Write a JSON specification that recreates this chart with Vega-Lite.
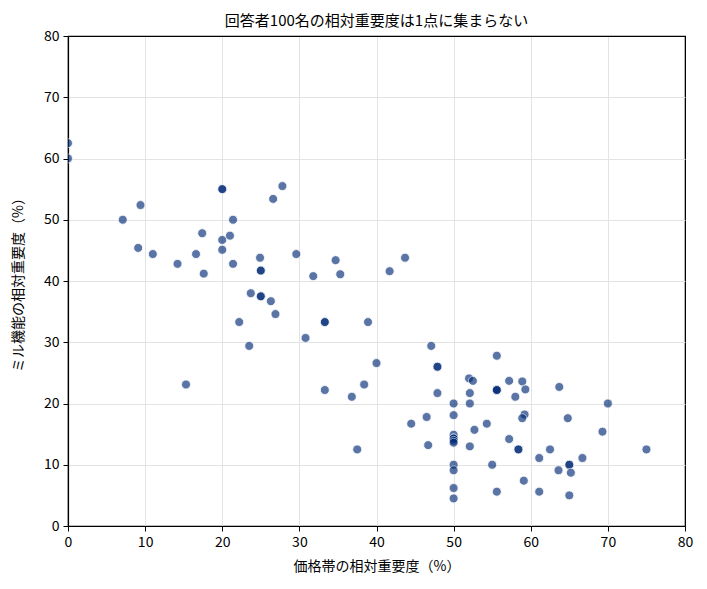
{
  "$schema": "https://vega.github.io/schema/vega-lite/v6.json",
  "width": 617,
  "height": 490,
  "autosize": "none",
  "padding": {"left": 68, "top": 36, "right": 22, "bottom": 63},
  "background": "white",
  "view": {"stroke": "black", "strokeWidth": 1.2},
  "config": {
    "font": "Noto Sans CJK JP",
    "view": {"stroke": "black", "strokeWidth": 1.2},
    "axis": {
      "domainColor": "black",
      "domainWidth": 1.2,
      "tickColor": "black",
      "labelColor": "black",
      "labelFontSize": 14,
      "labelFlush": false,
      "titleFontSize": 14,
      "titleFontWeight": "normal",
      "titleColor": "black",
      "gridColor": {
        "condition": {"test": "datum.value === 80", "value": "black"},
        "value": "#e3e3e3"
      },
      "tickSize": 5,
      "labelPadding": 4
    }
  },
  "title": {
    "text": "回答者100名の相対重要度は1点に集まらない",
    "fontSize": 15,
    "fontWeight": "normal",
    "color": "black",
    "offset": 0
  },
  "data": {
    "values": [
      {"price": 0, "mill": 62.5}, {"price": 0, "mill": 60},
      {"price": 20, "mill": 55}, {"price": 20, "mill": 55},
      {"price": 27.8, "mill": 55.5}, {"price": 26.6, "mill": 53.4},
      {"price": 9.4, "mill": 52.4}, {"price": 7.1, "mill": 50},
      {"price": 21.4, "mill": 50}, {"price": 17.4, "mill": 47.8},
      {"price": 20, "mill": 46.7}, {"price": 21, "mill": 47.4},
      {"price": 9.1, "mill": 45.4}, {"price": 11, "mill": 44.4},
      {"price": 16.6, "mill": 44.4}, {"price": 20, "mill": 45.1},
      {"price": 14.2, "mill": 42.8}, {"price": 17.6, "mill": 41.2},
      {"price": 21.4, "mill": 42.8}, {"price": 24.9, "mill": 43.8},
      {"price": 25, "mill": 41.7}, {"price": 25, "mill": 41.7},
      {"price": 29.6, "mill": 44.4}, {"price": 34.7, "mill": 43.4},
      {"price": 31.8, "mill": 40.8}, {"price": 35.3, "mill": 41.1},
      {"price": 41.7, "mill": 41.6}, {"price": 43.7, "mill": 43.8},
      {"price": 23.7, "mill": 38}, {"price": 25, "mill": 37.5},
      {"price": 25, "mill": 37.5}, {"price": 26.3, "mill": 36.7},
      {"price": 26.9, "mill": 34.6}, {"price": 22.2, "mill": 33.3},
      {"price": 33.3, "mill": 33.3}, {"price": 33.3, "mill": 33.3},
      {"price": 38.9, "mill": 33.3}, {"price": 30.8, "mill": 30.7},
      {"price": 23.5, "mill": 29.4}, {"price": 47.1, "mill": 29.4},
      {"price": 15.3, "mill": 23.1}, {"price": 40, "mill": 26.6},
      {"price": 33.3, "mill": 22.2}, {"price": 38.4, "mill": 23.1},
      {"price": 36.8, "mill": 21.1}, {"price": 37.5, "mill": 12.5},
      {"price": 44.5, "mill": 16.7}, {"price": 55.6, "mill": 27.8},
      {"price": 47.9, "mill": 26}, {"price": 47.9, "mill": 26},
      {"price": 52, "mill": 24.1}, {"price": 52.5, "mill": 23.7},
      {"price": 57.2, "mill": 23.7}, {"price": 58.9, "mill": 23.6},
      {"price": 55.6, "mill": 22.2}, {"price": 55.6, "mill": 22.2},
      {"price": 55.6, "mill": 22.2}, {"price": 59.3, "mill": 22.3},
      {"price": 63.7, "mill": 22.7}, {"price": 47.9, "mill": 21.7},
      {"price": 52.1, "mill": 21.7}, {"price": 58, "mill": 21.1},
      {"price": 50, "mill": 20}, {"price": 52.1, "mill": 20},
      {"price": 70, "mill": 20}, {"price": 50, "mill": 18.1},
      {"price": 59.2, "mill": 18.2}, {"price": 58.9, "mill": 17.6},
      {"price": 64.8, "mill": 17.6}, {"price": 46.5, "mill": 17.8},
      {"price": 54.3, "mill": 16.7}, {"price": 52.7, "mill": 15.7},
      {"price": 69.3, "mill": 15.4}, {"price": 50, "mill": 14.9},
      {"price": 50, "mill": 14.3}, {"price": 50, "mill": 14.3},
      {"price": 50, "mill": 13.9}, {"price": 50, "mill": 13.6},
      {"price": 46.7, "mill": 13.2}, {"price": 52.1, "mill": 13},
      {"price": 57.2, "mill": 14.2}, {"price": 58.4, "mill": 12.5},
      {"price": 58.4, "mill": 12.5}, {"price": 62.5, "mill": 12.5},
      {"price": 75, "mill": 12.5}, {"price": 61.1, "mill": 11.1},
      {"price": 66.7, "mill": 11.1}, {"price": 65, "mill": 10},
      {"price": 65, "mill": 10}, {"price": 50, "mill": 10},
      {"price": 55, "mill": 10}, {"price": 50, "mill": 9.1},
      {"price": 63.6, "mill": 9.1}, {"price": 65.2, "mill": 8.7},
      {"price": 59.1, "mill": 7.4}, {"price": 50, "mill": 6.2},
      {"price": 55.6, "mill": 5.6}, {"price": 61.1, "mill": 5.6},
      {"price": 65, "mill": 5}, {"price": 50, "mill": 4.5}
    ]
  },
  "mark": {
    "type": "point",
    "filled": true,
    "clip": true,
    "size": 80,
    "color": "#022b76",
    "opacity": 0.65,
    "stroke": "white",
    "strokeWidth": 0.8,
    "strokeOpacity": 1
  },
  "encoding": {
    "x": {
      "field": "price",
      "type": "quantitative",
      "title": "価格帯の相対重要度（%）",
      "scale": {"domain": [0, 80], "nice": false, "zero": true},
      "axis": {"values": [0, 10, 20, 30, 40, 50, 60, 70, 80], "titlePadding": 10}
    },
    "y": {
      "field": "mill",
      "type": "quantitative",
      "title": "ミル機能の相対重要度（%）",
      "scale": {"domain": [0, 80], "nice": false},
      "axis": {"values": [0, 10, 20, 30, 40, 50, 60, 70, 80], "titlePadding": 18}
    }
  }
}
